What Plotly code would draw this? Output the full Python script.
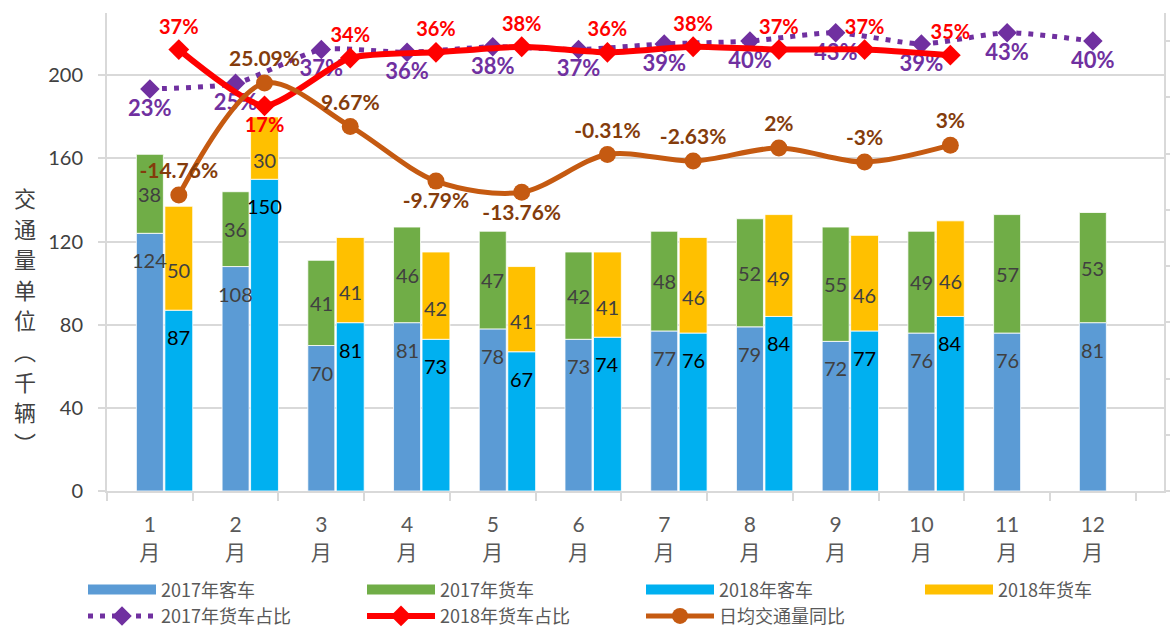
import plotly.graph_objects as go

# ---------------- data ----------------
months = list(range(1, 13))
month_labels = [f"{m}<br>月" for m in months]
months_2018 = list(range(1, 11))

pass_2017 = [124, 108, 70, 81, 78, 73, 77, 79, 72, 76, 76, 81]
freight_2017 = [38, 36, 41, 46, 47, 42, 48, 52, 55, 49, 57, 53]
pass_2018 = [87, 150, 81, 73, 67, 74, 76, 84, 77, 84]
freight_2018 = [50, 30, 41, 42, 41, 41, 46, 49, 46, 46]

share_2017 = [23, 25, 37, 36, 38, 37, 39, 40, 43, 39, 43, 40]
share_2018 = [37, 17, 34, 36, 38, 36, 38, 37, 37, 35]
daily_yoy = [-14.76, 25.09, 9.67, -9.79, -13.76, -0.31, -2.63, 2, -3, 3]
daily_yoy_labels = ["-14.76%", "25.09%", "9.67%", "-9.79%", "-13.76%",
                    "-0.31%", "-2.63%", "2%", "-3%", "3%"]

y_ticks = [0, 40, 80, 120, 160, 200]
y_title = "交通量单位︵千辆︶"
bar_names = ["2017年客车", "2017年货车", "2018年客车", "2018年货车"]

# ---------------- styles ----------------
C_P17, C_F17, C_P18, C_F18 = "#5B9BD5", "#70AD47", "#00B0F0", "#FFC000"
C_PUR, C_RED, C_BRN = "#7030A0", "#FF0000", "#C55A11"
GRID = "#D9D9D9"
NUM_FONT = "Lato, Noto Sans CJK SC"
W17, OFF17 = 0.315, -0.1575
W18, OFF18 = 0.325, 0.175
SHIFT18 = OFF18 + W18 / 2
XR = [0.5, 12.83]

fig = go.Figure()
bar_line = dict(color="rgba(255,255,255,0.8)", width=1)

fig.add_bar(x=months, y=pass_2017, width=W17, offset=OFF17, name=bar_names[0],
            showlegend=False, marker=dict(color=C_P17, line=bar_line))
fig.add_bar(x=months, y=freight_2017, base=pass_2017, width=W17, offset=OFF17,
            name=bar_names[1], showlegend=False, marker=dict(color=C_F17, line=bar_line))
fig.add_bar(x=months_2018, y=pass_2018, width=W18, offset=OFF18, name=bar_names[2],
            showlegend=False, marker=dict(color=C_P18, line=bar_line))
fig.add_bar(x=months_2018, y=freight_2018, base=pass_2018, width=W18, offset=OFF18,
            name=bar_names[3], showlegend=False, marker=dict(color=C_F18, line=bar_line))

# legend swatches (wide, as in the reference) for the bar series
for nm, col in zip(bar_names, [C_P17, C_F17, C_P18, C_F18]):
    fig.add_scatter(x=[None], y=[None], mode="lines", name=nm,
                    line=dict(color=col, width=12))

fig.add_scatter(x=months, y=share_2017, yaxis="y2", xaxis="x", name="2017年货车占比",
                mode="lines+markers+text", text=[f"{v}%" for v in share_2017],
                textposition="bottom center", cliponaxis=False,
                textfont=dict(family=NUM_FONT, size=22, color=C_PUR, weight="bold"),
                line=dict(color=C_PUR, width=5, dash="5px,7px", shape="spline", smoothing=0.6),
                marker=dict(symbol="diamond", size=15, color=C_PUR))

red_pos = ["top center"] * len(share_2018)
red_pos[1] = "bottom center"
fig.add_scatter(x=months_2018, y=share_2018, yaxis="y2", xaxis="x2", name="2018年货车占比",
                mode="lines+markers+text", text=[f"{v}%" for v in share_2018],
                textposition=red_pos, cliponaxis=False,
                textfont=dict(family=NUM_FONT, size=20, color=C_RED, weight="bold"),
                line=dict(color=C_RED, width=6, shape="spline", smoothing=0.6),
                marker=dict(symbol="diamond", size=16, color=C_RED))

brn_pos = ["top center"] * len(daily_yoy)
brn_pos[3] = "bottom center"
brn_pos[4] = "bottom center"
fig.add_scatter(x=months_2018, y=daily_yoy, yaxis="y2", xaxis="x2", name="日均交通量同比",
                mode="lines+markers+text", text=daily_yoy_labels,
                textposition=brn_pos, cliponaxis=False,
                textfont=dict(family=NUM_FONT, size=21, color="#843C0C", weight="bold"),
                line=dict(color=C_BRN, width=5, shape="spline", smoothing=0.9),
                marker=dict(symbol="circle", size=17, color=C_BRN))

# bar value labels
ann = []
lab_font = dict(family=NUM_FONT, size=20, color="#404040")
for m, p, f in zip(months, pass_2017, freight_2017):
    ann.append(dict(x=m, y=p, xref="x", yref="y", text=str(p), showarrow=False,
                    yshift=-27, font=lab_font))
    ann.append(dict(x=m, y=p + f / 2, xref="x", yref="y", text=str(f), showarrow=False,
                    yshift=0, font=lab_font))
for m, p, f in zip(months_2018, pass_2018, freight_2018):
    ann.append(dict(x=m, y=p, xref="x2", yref="y", text=str(p), showarrow=False,
                    yshift=-27, font=dict(family=NUM_FONT, size=20, color="#000000")))
    ann.append(dict(x=m, y=p + f / 2, xref="x2", yref="y", text=str(f), showarrow=False,
                    yshift=-12, font=lab_font))

# vertical (stacked) axis title, one character per line
n_ch = len(y_title)
for i, ch in enumerate(y_title):
    ann.append(dict(x=-0.078, y=0.359, xref="paper", yref="paper", showarrow=False,
                    xanchor="center", yanchor="middle", yshift=((n_ch - 1) / 2 - i) * 30.6,
                    text=ch, font=dict(family="Noto Sans CJK SC", size=22, color="#404040")))

fig.update_layout(
    width=1170, height=631,
    margin=dict(l=107, r=6, t=13, b=140, autoexpand=False),
    plot_bgcolor="white", paper_bgcolor="white",
    barmode="overlay",
    annotations=ann,
    xaxis=dict(range=XR, tickmode="array", tickvals=months, ticktext=month_labels,
               ticks="", showgrid=False, zeroline=False,
               showline=True, linecolor=GRID, linewidth=2,
               tickfont=dict(family=NUM_FONT, size=21, color="#595959"),
               ticklabelstandoff=14,
               minor=dict(tickmode="array", tickvals=[m - 0.5 for m in months] + [months[-1] + 0.5],
                          ticks="outside", ticklen=8, tickcolor=GRID, tickwidth=2, showgrid=False)),
    xaxis2=dict(overlaying="x", range=[XR[0] - SHIFT18, XR[1] - SHIFT18], visible=False),
    yaxis=dict(range=[0, 230], tickmode="array", tickvals=y_ticks,
               showgrid=True, gridcolor=GRID, gridwidth=2, zeroline=False,
               showline=True, linecolor=GRID, linewidth=2,
               ticks="outside", ticklen=7, tickcolor=GRID, tickwidth=2,
               ticklabelstandoff=11,
               tickfont=dict(family=NUM_FONT, size=20, color="#404040")),
    yaxis2=dict(overlaying="y", side="right", range=[-120, 50], tick0=-120, dtick=20,
                showgrid=False, zeroline=False, showticklabels=False,
                showline=True, linecolor=GRID, linewidth=2,
                ticks="outside", ticklen=6, tickcolor=GRID, tickwidth=2),
    legend=dict(orientation="h", x=-0.0227, y=-0.168, xanchor="left", yanchor="top",
                entrywidth=196, entrywidthmode="pixels", itemwidth=68,
                tracegroupgap=0, traceorder="normal",
                font=dict(family="Noto Sans CJK SC", size=18, color="#595959")),
)

fig.write_html("out.html", config={"displayModeBar": False},
               post_script="document.body.style.margin='0';")
